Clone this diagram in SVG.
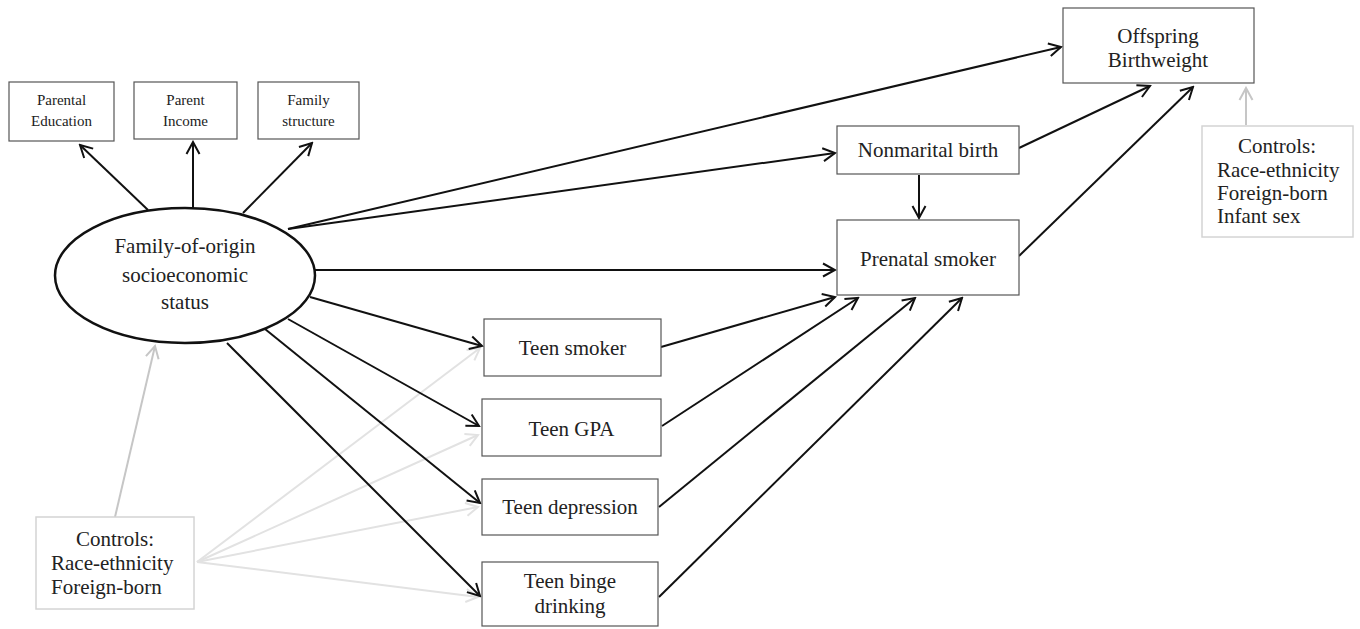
<svg xmlns="http://www.w3.org/2000/svg" width="1360" height="629" viewBox="0 0 1360 629">
<style>
text{font-family:"Liberation Serif","Times New Roman",serif;fill:#222;text-anchor:middle}
.t{font-size:21px}
.s{font-size:15px}
.box{fill:#fff;stroke:#555;stroke-width:1.2}
.cbox{fill:#fff;stroke:#d4d4d4;stroke-width:1.5}
.a{stroke:#111;stroke-width:2;fill:none;marker-end:url(#ah)}
.g{stroke:#c6c6c6;stroke-width:2;fill:none;marker-end:url(#ahg)}
.gl{stroke:#e2e2e2;stroke-width:2;fill:none;marker-end:url(#ahl)}
</style>
<defs>
<marker id="ah" viewBox="-14 -8 16 16" refX="0" refY="0" markerWidth="16" markerHeight="16" markerUnits="userSpaceOnUse" orient="auto"><path d="M-12,-6.5 L0,0 L-12,6.5" fill="none" stroke="#111" stroke-width="2"/></marker>
<marker id="ahg" viewBox="-14 -8 16 16" refX="0" refY="0" markerWidth="16" markerHeight="16" markerUnits="userSpaceOnUse" orient="auto"><path d="M-12,-6.5 L0,0 L-12,6.5" fill="none" stroke="#c6c6c6" stroke-width="2"/></marker>
<marker id="ahl" viewBox="-14 -8 16 16" refX="0" refY="0" markerWidth="16" markerHeight="16" markerUnits="userSpaceOnUse" orient="auto"><path d="M-12,-6.5 L0,0 L-12,6.5" fill="none" stroke="#e2e2e2" stroke-width="2"/></marker>
</defs>
<rect width="1360" height="629" fill="#fff"/>
<g id="connectors">
<line class="gl" x1="197" y1="562" x2="480" y2="348"/>
<line class="gl" x1="197" y1="562" x2="478" y2="435"/>
<line class="gl" x1="197" y1="562" x2="478" y2="507"/>
<line class="gl" x1="197" y1="562" x2="478" y2="597"/>
<line class="g" x1="115" y1="517" x2="155" y2="346"/>
<line class="g" x1="1246" y1="125" x2="1246" y2="88"/>
<line class="a" x1="148" y1="210" x2="80" y2="145"/>
<line class="a" x1="193" y1="208" x2="193" y2="142"/>
<line class="a" x1="243" y1="213" x2="312" y2="143"/>
<line class="a" x1="288" y1="229" x2="1061" y2="47"/>
<line class="a" x1="288" y1="229" x2="835" y2="153"/>
<line class="a" x1="315" y1="270" x2="835" y2="270"/>
<line class="a" x1="310" y1="297" x2="482" y2="346"/>
<line class="a" x1="288" y1="319" x2="479" y2="426"/>
<line class="a" x1="265" y1="329" x2="480" y2="503"/>
<line class="a" x1="227" y1="343" x2="480" y2="596"/>
<line class="a" x1="661" y1="347" x2="835" y2="297"/>
<line class="a" x1="662" y1="426" x2="858" y2="298"/>
<line class="a" x1="659" y1="507" x2="915" y2="298"/>
<line class="a" x1="659" y1="597" x2="962" y2="298"/>
<line class="a" x1="1019" y1="148" x2="1150" y2="86"/>
<line class="a" x1="1019" y1="256" x2="1193" y2="87"/>
<line class="a" x1="919" y1="175" x2="919" y2="218"/>
</g>
<g id="ses">
<ellipse cx="185" cy="275.5" rx="130" ry="67.5" fill="#fff" stroke="#111" stroke-width="2.5"/>
<text class="t" x="185" y="253">Family-of-origin</text>
<text class="t" x="185" y="282">socioeconomic</text>
<text class="t" x="185" y="309">status</text>
</g>
<g id="parental-education">
<rect class="box" x="9" y="82" width="105" height="59"/>
<text class="s" x="61.5" y="105">Parental</text>
<text class="s" x="61.5" y="126">Education</text>
</g>
<g id="parent-income">
<rect class="box" x="134" y="82" width="103" height="57"/>
<text class="s" x="185.5" y="105">Parent</text>
<text class="s" x="185.5" y="126">Income</text>
</g>
<g id="family-structure">
<rect class="box" x="258" y="82" width="101" height="57"/>
<text class="s" x="308.5" y="105">Family</text>
<text class="s" x="308.5" y="126">structure</text>
</g>
<g id="offspring">
<rect class="box" x="1063" y="8" width="191" height="75"/>
<text class="t" x="1158" y="43">Offspring</text>
<text class="t" x="1158" y="67">Birthweight</text>
</g>
<g id="controls-right">
<rect class="cbox" x="1202" y="126" width="151" height="111"/>
<text class="t" x="1277" y="153">Controls:</text>
<text class="t" x="1217" y="177" style="text-anchor:start">Race-ethnicity</text>
<text class="t" x="1217" y="200" style="text-anchor:start">Foreign-born</text>
<text class="t" x="1217" y="223" style="text-anchor:start">Infant sex</text>
</g>
<g id="nonmarital">
<rect class="box" x="837" y="126" width="182" height="48"/>
<text class="t" x="928" y="157">Nonmarital birth</text>
</g>
<g id="prenatal">
<rect class="box" x="837" y="220" width="182" height="75"/>
<text class="t" x="928" y="266">Prenatal smoker</text>
</g>
<g id="teen-smoker">
<rect class="box" x="484" y="319" width="177" height="57"/>
<text class="t" x="572.5" y="355">Teen smoker</text>
</g>
<g id="teen-gpa">
<rect class="box" x="482" y="399" width="179" height="57"/>
<text class="t" x="571.5" y="436">Teen GPA</text>
</g>
<g id="teen-depression">
<rect class="box" x="482" y="479" width="176" height="56"/>
<text class="t" x="570" y="514">Teen depression</text>
</g>
<g id="teen-binge">
<rect class="box" x="482" y="562" width="176" height="64"/>
<text class="t" x="570" y="588">Teen binge</text>
<text class="t" x="570" y="613">drinking</text>
</g>
<g id="controls-left">
<rect class="cbox" x="36" y="517" width="158" height="92"/>
<text class="t" x="115" y="546">Controls:</text>
<text class="t" x="51" y="570" style="text-anchor:start">Race-ethnicity</text>
<text class="t" x="51" y="594" style="text-anchor:start">Foreign-born</text>
</g>
</svg>
